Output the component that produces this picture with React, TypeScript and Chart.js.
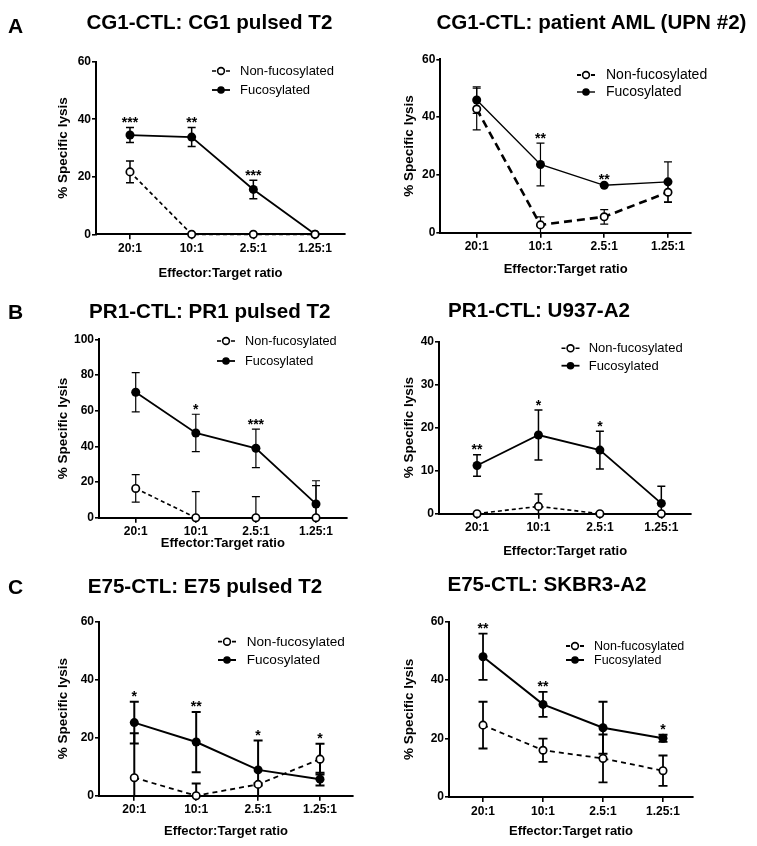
import React, { useEffect, useRef } from "react";
import { Chart, registerables } from "chart.js";

Chart.register(...registerables);

const FONT = "'Liberation Sans', Arial, Helvetica, sans-serif";

// ---------- shared labels ----------
const ratioLabels = ["20:1", "10:1", "2.5:1", "1.25:1"];
const seriesNames = ["Non-fucosylated", "Fucosylated"];
const xAxisTitle = "Effector:Target ratio";
const yAxisTitle = "% Specific lysis";

// ---------- A left ----------
const aLeftTitle = "CG1-CTL: CG1 pulsed T2";
const aLeftYTicks = [0, 20, 40, 60];
const aLeftNon = [21.7, 0, 0, 0];
const aLeftNonErr = [3.8, 0, 0, 0];
const aLeftFuc = [34.5, 33.8, 15.6, 0];
const aLeftFucErr = [2.6, 3.3, 3.2, 0];
const aLeftStars = ["***", "**", "***", ""];

// ---------- A right ----------
const aRightTitle = "CG1-CTL: patient AML (UPN #2)";
const aRightYTicks = [0, 20, 40, 60];
const aRightNon = [42.8, 2.7, 5.5, 14.0];
const aRightNonErr = [7.2, 2.8, 2.5, 3.5];
const aRightFuc = [45.9, 23.6, 16.4, 17.6];
const aRightFucErr = [4.6, 7.4, 0.4, 6.9];
const aRightStars = ["", "**", "**", ""];

// ---------- B left ----------
const bLeftTitle = "PR1-CTL: PR1 pulsed T2";
const bLeftYTicks = [0, 20, 40, 60, 80, 100];
const bLeftNon = [16.4, 0, 0, 0];
const bLeftNonErr = [7.7, 14.6, 11.8, 18.0];
const bLeftFuc = [70.3, 47.5, 38.9, 7.7];
const bLeftFucErr = [11.0, 10.5, 10.8, 13.0];
const bLeftStars = ["", "*", "***", ""];

// ---------- B right ----------
const bRightTitle = "PR1-CTL: U937-A2";
const bRightYTicks = [0, 10, 20, 30, 40];
const bRightNon = [0, 1.7, 0, 0];
const bRightNonErr = [0, 2.9, 0, 0];
const bRightFuc = [11.2, 18.3, 14.8, 2.4];
const bRightFucErr = [2.5, 5.8, 4.4, 4.0];
const bRightStars = ["**", "*", "*", ""];

// ---------- C left ----------
const cLeftTitle = "E75-CTL: E75 pulsed T2";
const cLeftYTicks = [0, 20, 40, 60];
const cLeftNon = [6.2, 0, 3.9, 12.6];
const cLeftNonErr = [15.3, 4.2, 0.4, 5.3];
const cLeftFuc = [25.2, 18.5, 8.9, 5.7];
const cLeftFucErr = [7.2, 10.4, 10.1, 2.2];
const cLeftStars = ["*", "**", "*", "*"];

// ---------- C right ----------
const cRightTitle = "E75-CTL: SKBR3-A2";
const cRightYTicks = [0, 20, 40, 60];
const cRightNon = [24.6, 16.0, 13.2, 9.0];
const cRightNonErr = [8.0, 4.0, 8.2, 5.2];
const cRightFuc = [48.0, 31.7, 23.7, 20.1];
const cRightFucErr = [7.9, 4.3, 8.9, 1.2];
const cRightStars = ["**", "**", "", "*"];

type PanelCfg = {
  key: string;
  letter?: string;
  title: string;
  yTicks: number[];
  non: number[];
  nonErr: number[];
  fuc: number[];
  fucErr: number[];
  stars: string[];
  box: { l: number; t: number; w: number; h: number };
  axisX: number;
  axisEnd: number;
  yTopPx: number;
  y0Px: number;
  xMin: number;
  xMax: number;
  yTitleX: number;
  xTitleY: number;
  titleX: number;
  titleY: number;
  letterY?: number;
  legX: number;
  legSampleX: number;
  legY: number[];
  legFont: number;
  dash: number[];
  lwNon: number;
  lwFuc: number;
  errW: number;
  capW: number;
};

const panels: PanelCfg[] = [
  {
    key: "aL", letter: "A", title: aLeftTitle, yTicks: aLeftYTicks,
    non: aLeftNon, nonErr: aLeftNonErr, fuc: aLeftFuc, fucErr: aLeftFucErr, stars: aLeftStars,
    box: { l: 0, t: 0, w: 378, h: 285 }, axisX: 96, axisEnd: 345, yTopPx: 61.7, y0Px: 234.3,
    xMin: -0.551, xMax: 3.486, yTitleX: 63, xTitleY: 273, titleX: 86.4, titleY: 22.5, letterY: 25.3,
    legX: 240, legSampleX: 221, legY: [71, 90], legFont: 13, dash: [4, 3], lwNon: 1.7, lwFuc: 1.8, errW: 1.5, capW: 4,
  },
  {
    key: "aR", title: aRightTitle, yTicks: aRightYTicks,
    non: aRightNon, nonErr: aRightNonErr, fuc: aRightFuc, fucErr: aRightFucErr, stars: aRightStars,
    box: { l: 378, t: 0, w: 379, h: 285 }, axisX: 440.3, axisEnd: 691, yTopPx: 59.3, y0Px: 232.7,
    xMin: -0.571, xMax: 3.361, yTitleX: 409.7, xTitleY: 269, titleX: 436.4, titleY: 22.5,
    legX: 606, legSampleX: 586, legY: [75, 92], legFont: 14, dash: [8, 5], lwNon: 2.6, lwFuc: 1.4, errW: 1.2, capW: 4,
  },
  {
    key: "bL", letter: "B", title: bLeftTitle, yTicks: bLeftYTicks,
    non: bLeftNon, nonErr: bLeftNonErr, fuc: bLeftFuc, fucErr: bLeftFucErr, stars: bLeftStars,
    box: { l: 0, t: 285, w: 378, h: 275 }, axisX: 99, axisEnd: 346.7, yTopPx: 339.3, y0Px: 517.7,
    xMin: -0.611, xMax: 3.511, yTitleX: 63, xTitleY: 543.3, titleX: 89.1, titleY: 310.8, letterY: 311.7,
    legX: 245, legSampleX: 226, legY: [341, 361], legFont: 12.7, dash: [4, 3], lwNon: 1.6, lwFuc: 1.8, errW: 1.2, capW: 4,
  },
  {
    key: "bR", title: bRightTitle, yTicks: bRightYTicks,
    non: bRightNon, nonErr: bRightNonErr, fuc: bRightFuc, fucErr: bRightFucErr, stars: bRightStars,
    box: { l: 378, t: 285, w: 379, h: 275 }, axisX: 439, axisEnd: 691.3, yTopPx: 341.7, y0Px: 513.7,
    xMin: -0.619, xMax: 3.488, yTitleX: 409.7, xTitleY: 551.7, titleX: 448.1, titleY: 310,
    legX: 588.7, legSampleX: 570.5, legY: [348.3, 365.7], legFont: 13, dash: [4, 3], lwNon: 1.6, lwFuc: 1.8, errW: 1.5, capW: 4,
  },
  {
    key: "cL", letter: "C", title: cLeftTitle, yTicks: cLeftYTicks,
    non: cLeftNon, nonErr: cLeftNonErr, fuc: cLeftFuc, fucErr: cLeftFucErr, stars: cLeftStars,
    box: { l: 0, t: 560, w: 378, h: 286 }, axisX: 99, axisEnd: 353, yTopPx: 621.7, y0Px: 795.7,
    xMin: -0.57, xMax: 3.533, yTitleX: 63, xTitleY: 831.7, titleX: 87.7, titleY: 585.8, letterY: 586.7,
    legX: 246.7, legSampleX: 227, legY: [641.7, 660], legFont: 13.6, dash: [5, 4], lwNon: 1.8, lwFuc: 2, errW: 2, capW: 4.5,
  },
  {
    key: "cR", title: cRightTitle, yTicks: cRightYTicks,
    non: cRightNon, nonErr: cRightNonErr, fuc: cRightFuc, fucErr: cRightFucErr, stars: cRightStars,
    box: { l: 378, t: 560, w: 379, h: 286 }, axisX: 449, axisEnd: 693, yTopPx: 621.7, y0Px: 797,
    xMin: -0.567, xMax: 3.5, yTitleX: 409.7, xTitleY: 831.7, titleX: 447.4, titleY: 584.2,
    legX: 594, legSampleX: 575, legY: [646, 660], legFont: 12.5, dash: [5, 4], lwNon: 1.8, lwFuc: 2, errW: 1.8, capW: 4.5,
  },
];

const TITLE_SIZE = 20.6;
const LETTER_SIZE = 21;
const AXIS_TITLE_SIZE = 13;
const Y_TITLE_SIZE = 13.5;
const TICK_SIZE = 12;

function drawMarker(ctx: CanvasRenderingContext2D, x: number, y: number, r: number, open: boolean) {
  ctx.save();
  ctx.setLineDash([]);
  ctx.beginPath();
  ctx.arc(x, y, r, 0, Math.PI * 2);
  if (open) {
    ctx.fillStyle = "#fff";
    ctx.fill();
    ctx.lineWidth = 1.6;
    ctx.strokeStyle = "#000";
    ctx.stroke();
  } else {
    ctx.fillStyle = "#000";
    ctx.fill();
  }
  ctx.restore();
}

function PanelChart({ p }: { p: PanelCfg }) {
  const ref = useRef<HTMLCanvasElement | null>(null);

  useEffect(() => {
    const canvas = ref.current;
    if (!canvas) return;
    const { l: L, t: T, w: W, h: H } = p.box;
    const yMin = p.yTicks[0];
    const yMax = p.yTicks[p.yTicks.length - 1];
    const series = [
      { name: seriesNames[0], values: p.non, errs: p.nonErr, open: true, lw: p.lwNon, dash: p.dash },
      { name: seriesNames[1], values: p.fuc, errs: p.fucErr, open: false, lw: p.lwFuc, dash: [] as number[] },
    ];
    const yTitleLH = Y_TITLE_SIZE * 1.2;
    const xTitleLH = AXIS_TITLE_SIZE * 1.2;

    const overlay = {
      id: "overlay_" + p.key,
      beforeDatasetsDraw(chart: any) {
        const ctx: CanvasRenderingContext2D = chart.ctx;
        const xs = chart.scales.x;
        const ys = chart.scales.y;
        const floor = ys.getPixelForValue(yMin);
        ctx.save();
        ctx.strokeStyle = "#000";
        ctx.lineWidth = p.errW;
        ctx.setLineDash([]);
        series.forEach((s) => {
          s.values.forEach((v, i) => {
            const e = s.errs[i];
            if (!e) return;
            const x = xs.getPixelForValue(i);
            const top = ys.getPixelForValue(v + e);
            const lowV = v - e;
            const bot = lowV < yMin ? floor : ys.getPixelForValue(lowV);
            ctx.beginPath();
            ctx.moveTo(x, top);
            ctx.lineTo(x, bot);
            ctx.moveTo(x - p.capW, top);
            ctx.lineTo(x + p.capW, top);
            if (lowV >= yMin) {
              ctx.moveTo(x - p.capW, bot);
              ctx.lineTo(x + p.capW, bot);
            }
            ctx.stroke();
          });
        });
        ctx.restore();
      },
      afterDatasetsDraw(chart: any) {
        const ctx: CanvasRenderingContext2D = chart.ctx;
        const xs = chart.scales.x;
        const ys = chart.scales.y;
        ctx.save();
        // significance stars
        ctx.fillStyle = "#000";
        ctx.font = `bold 14px ${FONT}`;
        ctx.textAlign = "center";
        ctx.textBaseline = "alphabetic";
        p.stars.forEach((st, i) => {
          if (!st) return;
          let top = Infinity;
          series.forEach((s) => {
            const v = s.values[i];
            const e = s.errs[i];
            const py = e ? ys.getPixelForValue(v + e) : ys.getPixelForValue(v) - 5;
            top = Math.min(top, py);
          });
          ctx.fillText(st, xs.getPixelForValue(i), top - 0.5);
        });
        // legend
        series.forEach((s, k) => {
          const y = p.legY[k] - T;
          const sx = p.legSampleX - L;
          ctx.save();
          ctx.strokeStyle = "#000";
          ctx.lineWidth = Math.min(s.lw, 2);
          ctx.setLineDash(s.open ? [4, 3] : []);
          ctx.beginPath();
          ctx.moveTo(sx - 9, y);
          ctx.lineTo(sx + 9, y);
          ctx.stroke();
          ctx.restore();
          drawMarker(ctx, sx, y, s.open ? 3.4 : 3.8, s.open);
          ctx.fillStyle = "#000";
          ctx.font = `${p.legFont}px ${FONT}`;
          ctx.textAlign = "left";
          ctx.textBaseline = "middle";
          ctx.fillText(s.name, p.legX - L, y + 0.5);
        });
        ctx.restore();
      },
    };

    const chart = new Chart(canvas, {
      type: "line",
      data: {
        datasets: series.map((s) => ({
          label: s.name,
          data: s.values.map((v, i) => ({ x: i, y: v })),
          borderColor: "#000",
          borderWidth: s.lw,
          borderDash: s.dash,
          pointRadius: s.open ? 3.7 : 4.5,
          pointBorderWidth: s.open ? 1.7 : 0,
          pointBackgroundColor: s.open ? "#fff" : "#000",
          pointBorderColor: "#000",
          pointHoverRadius: 0,
          tension: 0,
          fill: false,
          clip: false,
        })) as any,
      },
      options: {
        responsive: false,
        animation: false,
        devicePixelRatio: 1,
        events: [],
        layout: {
          padding: { left: 0, top: p.yTopPx - T, right: L + W - p.axisEnd, bottom: 0 },
        },
        plugins: {
          legend: { display: false },
          tooltip: { enabled: false },
          title: { display: false },
        },
        scales: {
          x: {
            type: "linear",
            position: "bottom",
            min: p.xMin,
            max: p.xMax,
            afterBuildTicks: (scale: any) => {
              scale.ticks = ratioLabels.map((_, i) => ({ value: i }));
            },
            afterFit: (scale: any) => {
              scale.height = T + H - p.y0Px;
            },
            grid: { display: true, drawOnChartArea: false, drawTicks: true, tickLength: 5, color: "#000", lineWidth: 1.6 },
            border: { display: true, color: "#000", width: 2 },
            ticks: {
              autoSkip: false,
              maxRotation: 0,
              padding: 2,
              color: "#000",
              font: { family: FONT, size: TICK_SIZE, weight: "bold" },
              callback: (v: any) => ratioLabels[Math.round(Number(v))] ?? "",
            },
            title: {
              display: true,
              text: xAxisTitle,
              color: "#000",
              font: { family: FONT, size: AXIS_TITLE_SIZE, weight: "bold" },
              padding: { top: 0, bottom: T + H - p.xTitleY - xTitleLH / 2 },
            },
          },
          y: {
            type: "linear",
            position: "left",
            min: yMin,
            max: yMax,
            afterBuildTicks: (scale: any) => {
              scale.ticks = p.yTicks.map((v) => ({ value: v }));
            },
            afterFit: (scale: any) => {
              scale.width = p.axisX - L;
            },
            grid: { display: true, drawOnChartArea: false, drawTicks: true, tickLength: 4, color: "#000", lineWidth: 1.6 },
            border: { display: true, color: "#000", width: 2 },
            ticks: {
              padding: 1,
              color: "#000",
              font: { family: FONT, size: TICK_SIZE, weight: "bold" },
              callback: (v: any) => String(v),
            },
            title: {
              display: true,
              text: yAxisTitle,
              color: "#000",
              font: { family: FONT, size: Y_TITLE_SIZE, weight: "bold" },
              padding: { top: p.yTitleX - L - yTitleLH / 2, bottom: 0 },
            },
          },
        },
      } as any,
      plugins: [overlay],
    });
    return () => chart.destroy();
  }, [p]);

  return (
    <>
      <canvas
        ref={ref}
        width={p.box.w}
        height={p.box.h}
        style={{ position: "absolute", left: p.box.l, top: p.box.t, width: p.box.w, height: p.box.h }}
      />
      <div
        style={{
          position: "absolute",
          left: p.titleX,
          top: p.titleY - 0.49 * TITLE_SIZE,
          fontFamily: FONT,
          fontWeight: "bold",
          fontSize: TITLE_SIZE,
          lineHeight: `${TITLE_SIZE}px`,
          whiteSpace: "nowrap",
          color: "#000",
        }}
      >
        {p.title}
      </div>
      {p.letter ? (
        <div
          style={{
            position: "absolute",
            left: 8,
            top: (p.letterY ?? 0) - 0.49 * LETTER_SIZE,
            fontFamily: FONT,
            fontWeight: "bold",
            fontSize: LETTER_SIZE,
            lineHeight: `${LETTER_SIZE}px`,
            color: "#000",
          }}
        >
          {p.letter}
        </div>
      ) : null}
    </>
  );
}

export default function App() {
  return (
    <div style={{ position: "absolute", left: 0, top: 0, width: 757, height: 846, background: "#fff", overflow: "hidden" }}>
      {panels.map((p) => (
        <PanelChart key={p.key} p={p} />
      ))}
    </div>
  );
}
